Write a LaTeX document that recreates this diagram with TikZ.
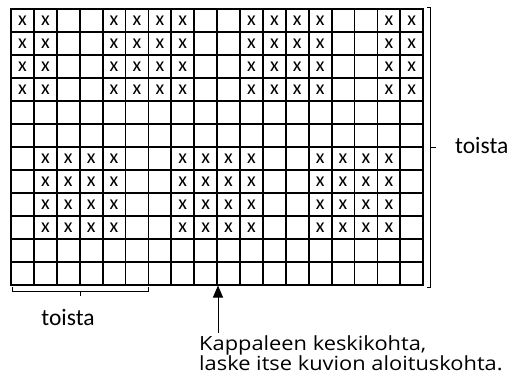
\documentclass[tikz,border=0pt]{standalone}
\usepackage{fontspec}
\setmainfont{Carlito}
\newfontfamily\notefont[FakeStretch=1.12]{Open Sans}
\usetikzlibrary{arrows.meta}
\begin{document}
\begin{tikzpicture}[x=1pt,y=-1pt,
  gridline/.style={line width=1.8pt,black},
  xmark/.style={inner sep=0pt,font=\fontsize{20}{20}\selectfont},
  bracket/.style={line width=0.8pt,black},
  label/.style={inner sep=0pt,font=\fontsize{23.5}{23.5}\selectfont},
  note/.style={inner sep=0pt,align=left,font=\notefont\fontsize{19.5}{20}\selectfont},
  pointer/.style={line width=1pt,-{Triangle[length=12pt,width=10pt]}}]
\useasboundingbox (0,0) rectangle (509,376);
\def\cw{22.9}
\def\ch{23}
% grid
\foreach \i in {1,...,17} \draw[gridline] ({11+\i*\cw},9) -- ({11+\i*\cw},285);
\foreach \j in {1,...,11} \draw[gridline] (11,{9+\j*\ch}) -- ({11+18*\cw},{9+\j*\ch});
\draw[gridline,line join=miter] (11,9) rectangle ({11+18*\cw},285);
% marks
\foreach \r in {1,...,4}
  \foreach \c in {1,2,5,6,7,8,11,12,13,14,17,18}
    \node[xmark] (u-\r-\c) at ({11+(\c-0.5)*\cw},{9+(\r-0.5)*\ch}) {x};
\foreach \r in {7,...,10}
  \foreach \c in {2,3,4,5,8,9,10,11,14,15,16,17}
    \node[xmark] (l-\r-\c) at ({11+(\c-0.5)*\cw},{9+(\r-0.5)*\ch}) {x};
% right bracket
\draw[bracket] (427,7) -- (430.5,7) -- (430.5,287) -- (427,287);
\draw[bracket] (430.5,147) -- (436,147);
\node[label,anchor=base west] (rtoista) at (455,153) {toista};
% bottom bracket
\draw[bracket] (12,287) -- (12,291.5) -- (148,291.5) -- (148,287);
\draw[bracket] (80,291.5) -- (80,296);
\node[label,anchor=base] (btoista) at (68,325) {toista};
% pointer
\coordinate (tail) at (218,333);
\coordinate (tip) at (218,285.5);
\draw[pointer] (tail) -- (tip);
\node[note,anchor=base west] (note) at (199,370.5) {Kappaleen keskikohta,\\laske itse kuvion aloituskohta.};
\end{tikzpicture}
\end{document}
